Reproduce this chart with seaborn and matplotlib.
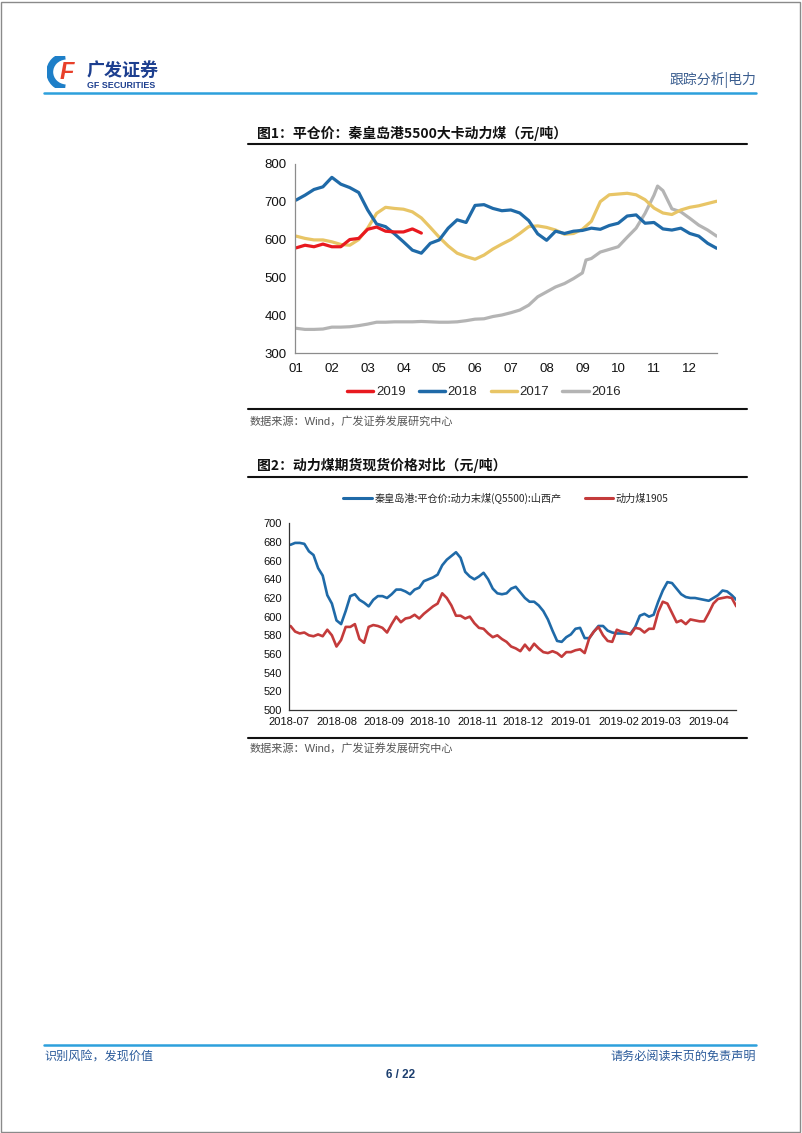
#!/usr/bin/env python3

import matplotlib
matplotlib.use('Agg')
import matplotlib.pyplot as plt
import matplotlib.dates as mdates
from matplotlib.lines import Line2D
from matplotlib.patches import Rectangle, Arc
import numpy as np
import pandas as pd
import seaborn as sns

sns.set_theme(style='white')
plt.rcParams['font.family'] = ['Liberation Sans', 'Noto Sans CJK SC', 'DejaVu Sans']

W, H = 802, 1133
CJK = ['Noto Sans CJK SC', 'DejaVu Sans']
NARROW = ['Liberation Sans Narrow', 'Liberation Sans', 'DejaVu Sans']

# ---- chart 1: weekly price by month of year ----
months = [1.0, 1.25, 1.5, 1.75, 2.0, 2.25, 2.5, 2.75, 3.0, 3.25, 3.5, 3.75,
          4.0, 4.25, 4.5, 4.75, 5.0, 5.25, 5.5, 5.75, 6.0, 6.25, 6.5, 6.75,
          7.0, 7.25, 7.5, 7.75, 8.0, 8.25, 8.5, 8.75, 9.0, 9.25, 9.5, 9.75,
          10.0, 10.25, 10.5, 10.75, 11.0, 11.25, 11.5, 11.75, 12.0, 12.25, 12.5, 12.75]
months_2016 = [1.0, 1.25, 1.5, 1.75, 2.0, 2.25, 2.5, 2.75, 3.0, 3.25, 3.5, 3.75,
               4.0, 4.25, 4.5, 4.75, 5.0, 5.25, 5.5, 5.75, 6.0, 6.25, 6.5, 6.75,
               7.0, 7.25, 7.5, 7.75, 8.0, 8.25, 8.5, 8.75, 9.0, 9.1, 9.25, 9.5, 9.75,
               10.0, 10.25, 10.5, 10.75, 11.0, 11.1, 11.25, 11.5, 11.75, 12.0, 12.25, 12.5, 12.75]
months_2019 = [1.0, 1.25, 1.5, 1.75, 2.0, 2.25, 2.5, 2.75, 3.0, 3.25, 3.5, 3.75,
               4.0, 4.25, 4.5]

price_2019 = [578, 585, 581, 588, 581, 581, 600, 603, 627, 633, 622, 620, 620, 628, 617]
price_2018 = [704, 717, 732, 739, 764, 746, 737, 724, 678, 641, 634, 615,
              594, 572, 564, 590, 599, 630, 652, 645, 690, 692, 682, 676,
              678, 670, 650, 615, 598, 622, 616, 622, 624, 630, 627, 637,
              643, 662, 665, 643, 645, 628, 625, 630, 616, 609, 590, 577]
price_2017 = [609, 603, 599, 599, 594, 587, 585, 600, 630, 669, 685, 682,
              680, 673, 657, 632, 606, 583, 564, 555, 548, 559, 575, 588,
              600, 616, 634, 636, 632, 625, 614, 616, 627, 648, 700, 718,
              720, 722, 718, 705, 683, 670, 666, 678, 685, 689, 695, 701]
price_2016 = [366, 363, 363, 364, 369, 369, 370, 373, 377, 382, 382, 383,
              383, 383, 384, 383, 382, 382, 383, 386, 390, 391, 397, 401,
              407, 414, 427, 449, 462, 475, 484, 497, 512, 546, 550, 567, 574,
              581, 606, 630, 669, 717, 741, 729, 681, 673, 656, 638, 625, 609]

years = ['2019', '2018', '2017', '2016']
year_colors = {'2019': '#e8191f', '2018': '#1f6aa8', '2017': '#e8c566', '2016': '#b4b4b4'}

# ---- chart 2: spot vs futures ----
dates2 = pd.date_range('2018-07-02', periods=98, freq='3D')
spot = [677, 679, 679, 678, 670, 666, 652, 644, 623, 614,
        596, 592, 606, 622, 624, 618, 615, 611, 618, 622, 622,
        620, 624, 629, 629, 627, 624, 629, 631, 638, 640,
        642, 645, 655, 661, 665, 669, 663, 648, 643, 640,
        643, 647, 640, 630, 625, 624, 625, 630, 632, 626,
        620, 616, 616, 612, 606, 597, 585, 574, 573, 578,
        581, 587, 588, 577, 577, 584, 590, 590, 585, 583, 582,
        582, 582, 582, 589, 601, 603, 600, 602, 616,
        628, 637, 636, 630, 624, 621, 620, 620, 619, 618,
        617, 620, 623, 628, 627, 623, 618]
futures = [590, 584, 582, 583, 580, 579, 581, 579, 586, 580,
           568, 575, 589, 589, 592, 576, 572, 589, 591, 590, 588,
           583, 592, 600, 594, 598, 599, 602, 598, 603, 607,
           611, 614, 625, 620, 612, 601, 601, 598, 600, 593,
           588, 587, 582, 578, 580, 576, 573, 568, 566, 563,
           570, 564, 571, 566, 562, 561, 563, 561, 557, 562,
           562, 564, 565, 561, 577, 584, 589, 580, 574, 573, 586,
           584, 583, 581, 588, 587, 583, 587, 587, 605,
           616, 614, 604, 594, 596, 592, 597, 596, 595, 595,
           604, 614, 619, 620, 621, 620, 611]
series2 = ['秦皇岛港:平仓价:动力末煤(Q5500):山西产', '动力煤1905']
series2_colors = {series2[0]: '#1f6aa8', series2[1]: '#c43b3b'}


def fx(x):
    return x / W


def fy(y):
    return 1 - y / H


fig = plt.figure(figsize=(W / 100, H / 100), dpi=100)

# page border
fig.add_artist(Rectangle((0.001, 0.001), 0.997, 0.997, transform=fig.transFigure,
                         fill=False, edgecolor='#8a8a8a', lw=1.0))

# ---- header ----
fig.add_artist(Line2D([fx(44), fx(756)], [fy(93), fy(93)], color='#2da0dc', lw=1.8))
fig.text(fx(756), fy(80), '跟踪分析|电力', ha='right', va='center', fontsize=10,
         color='#3a5d8f', family=CJK)
logo = fig.add_axes([fx(47), fy(88), fx(36), 32 / H])
logo.set_xlim(0, 1)
logo.set_ylim(0, 1)
logo.axis('off')
logo.add_patch(Arc((0.55, 0.5), 0.95, 1.0, theta1=95, theta2=265, lw=5, color='#1e7fc8'))
logo.text(0.56, 0.48, 'F', ha='center', va='center', fontsize=17, fontweight='bold',
          style='italic', color='#e8402a')
fig.text(fx(87), fy(70), '广发证券', ha='left', va='center', fontsize=13,
         fontweight='bold', color='#1d3f8f', family=CJK)
fig.text(fx(87), fy(86), 'GF SECURITIES', ha='left', va='center', fontsize=6.4,
         fontweight='bold', color='#1d3f8f')

# ---- chart 1 ----
fig.text(fx(257), fy(133), '图1：平仓价：秦皇岛港5500大卡动力煤（元/吨）', ha='left', va='center',
         fontsize=10, fontweight='bold', color='#111111', family=CJK)
fig.add_artist(Line2D([fx(248), fx(747)], [fy(144), fy(144)], color='#111111', lw=1.5))

frames = []
for yr, mm, vals in [('2016', months_2016, price_2016), ('2017', months, price_2017),
                     ('2018', months, price_2018), ('2019', months_2019, price_2019)]:
    frames.append(pd.DataFrame({'month': mm, 'price': vals, 'year': yr}))
df1 = pd.concat(frames, ignore_index=True)

ax1 = fig.add_axes([fx(295), fy(353.3), fx(717) - fx(295), (353.3 - 163.7) / H])
sns.lineplot(ax=ax1, data=df1, x='month', y='price', hue='year',
             hue_order=['2016', '2017', '2018', '2019'], palette=year_colors,
             estimator=None, sort=False, lw=2.3, legend=False)
ax1.set_xlim(0.97, 12.76)
ax1.set_ylim(300, 800)
ax1.set_xticks(range(1, 13))
ax1.set_xticklabels(['%02d' % m for m in range(1, 13)])
ax1.set_yticks([300, 400, 500, 600, 700, 800])
ax1.set_xlabel(None)
ax1.set_ylabel(None)
for side in ['top', 'right']:
    ax1.spines[side].set_visible(False)
for side in ['left', 'bottom']:
    ax1.spines[side].set_color('#8c8c8c')
    ax1.spines[side].set_linewidth(0.9)
ax1.tick_params(axis='both', which='major', length=3, width=0.8, color='#8c8c8c',
                labelsize=9.5, labelcolor='#111111', pad=3, direction='out')
ax1.tick_params(axis='x', pad=4)

handles1 = [Line2D([], [], color=year_colors[y], lw=2.5) for y in years]
fig.legend(handles1, years, loc='center', bbox_to_anchor=(fx(484), fy(392)), ncol=4,
           frameon=False, fontsize=9.5, handlelength=2.0, handletextpad=0.2,
           columnspacing=1.0, borderaxespad=0)

fig.add_artist(Line2D([fx(248), fx(747)], [fy(409), fy(409)], color='#111111', lw=1.5))
fig.text(fx(250), fy(421), '数据来源：Wind，广发证券发展研究中心', ha='left', va='center',
         fontsize=8, color='#555555', family=['Liberation Sans', 'Noto Sans CJK SC'])

# ---- chart 2 ----
fig.text(fx(257), fy(465), '图2：动力煤期货现货价格对比（元/吨）', ha='left', va='center',
         fontsize=10, fontweight='bold', color='#111111', family=CJK)
fig.add_artist(Line2D([fx(248), fx(747)], [fy(477), fy(477)], color='#111111', lw=1.5))

df2 = pd.concat([
    pd.DataFrame({'date': dates2, 'price': spot, 'series': series2[0]}),
    pd.DataFrame({'date': dates2, 'price': futures, 'series': series2[1]}),
], ignore_index=True)

ax2 = fig.add_axes([fx(289), fy(710), (735.7 - 289) / W, (710 - 523.3) / H])
sns.lineplot(ax=ax2, data=df2, x='date', y='price', hue='series', hue_order=series2,
             palette=series2_colors, estimator=None, lw=1.9, legend=False)
ax2.set_xlim(pd.Timestamp('2018-07-01'), pd.Timestamp('2019-04-18 14:00'))
ax2.set_ylim(500, 700)
ax2.set_yticks(range(500, 701, 20))
ax2.xaxis.set_major_locator(mdates.MonthLocator())
ax2.xaxis.set_major_formatter(mdates.DateFormatter('%Y-%m'))
ax2.set_xlabel(None)
ax2.set_ylabel(None)
for side in ['top', 'right']:
    ax2.spines[side].set_visible(False)
for side in ['left', 'bottom']:
    ax2.spines[side].set_color('#333333')
    ax2.spines[side].set_linewidth(0.9)
ax2.tick_params(axis='both', which='major', length=3, width=0.8, color='#333333',
                labelsize=8, labelcolor='#111111', pad=2, direction='out')
for lab in ax2.get_xticklabels() + ax2.get_yticklabels():
    lab.set_family(NARROW)

handles2 = [Line2D([], [], color=series2_colors[s], lw=2.2) for s in series2]
fig.legend(handles2, series2, loc='center', bbox_to_anchor=(fx(506), fy(498)), ncol=2,
           frameon=False, prop={'family': CJK, 'size': 7.3}, handlelength=2.8,
           handletextpad=0.25, columnspacing=2.3, borderaxespad=0)

fig.add_artist(Line2D([fx(248), fx(747)], [fy(738), fy(738)], color='#111111', lw=1.5))
fig.text(fx(250), fy(748), '数据来源：Wind，广发证券发展研究中心', ha='left', va='center',
         fontsize=8, color='#555555', family=['Liberation Sans', 'Noto Sans CJK SC'])

# ---- footer ----
fig.add_artist(Line2D([fx(44), fx(756)], [fy(1045), fy(1045)], color='#2da0dc', lw=1.8))
fig.text(fx(44), fy(1056), '识别风险，发现价值', ha='left', va='center', fontsize=8.7,
         color='#2a5a9a', family=CJK)
fig.text(fx(756), fy(1056), '请务必阅读末页的免责声明', ha='right', va='center', fontsize=8.7,
         color='#2a5a9a', family=CJK)
fig.text(fx(401), fy(1075), '6 / 22', ha='center', va='center', fontsize=8.5,
         fontweight='bold', color='#1d3f6f')

plt.savefig('out.png', dpi=100)
